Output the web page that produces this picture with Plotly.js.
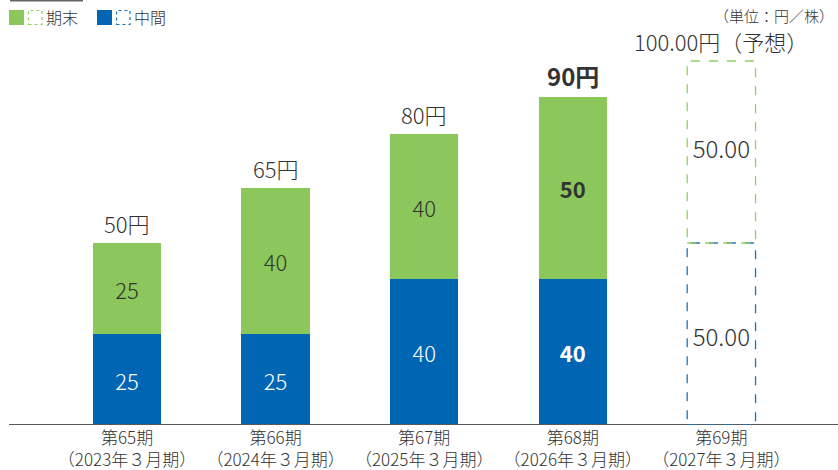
<!DOCTYPE html>
<html>
<head>
<meta charset="utf-8">
<script src="https://cdn.plot.ly/plotly-3.0.1.min.js"></script>
<style>html,body{margin:0;padding:0;background:#fff;}#chart{width:838px;height:470px;}</style>
</head>
<body>
<div id="chart"></div>
<script>
const categories = ["第65期<br>（2023年３月期）", "第66期<br>（2024年３月期）", "第67期<br>（2025年３月期）", "第68期<br>（2026年３月期）", "第69期<br>（2027年３月期）"];
const interim = [25, 25, 40, 40, null];
const yearEnd = [25, 40, 40, 50, null];
const forecastInterim = 50.00;
const forecastYearEnd = 50.00;
const forecastIndex = 4;
const highlightIndex = 3;

const W = 838, H = 470, MB = 45, PH = H - MB;
const GREEN = '#8bc75a', BLUE = '#0066b3', TXT = '#333333';
const FONT = '"Noto Sans CJK JP", "Noto Sans", sans-serif';
const LW = 300;
const xs = categories.map((c, i) => i);
const barW = 0.46;

function txt(vals) {
  return vals.map((v, i) => v == null ? '' : (i === highlightIndex ? '<b>' + v + '</b>' : String(v)));
}

const traces = [
  {type: 'bar', x: xs, y: interim, width: barW, marker: {color: BLUE},
   text: txt(interim), textposition: 'inside', insidetextanchor: 'middle',
   textfont: {color: '#ffffff', size: 22, family: FONT, weight: LW}, hoverinfo: 'skip', showlegend: false},
  {type: 'bar', x: xs, y: yearEnd, width: barW, marker: {color: GREEN},
   text: txt(yearEnd), textposition: 'inside', insidetextanchor: 'middle',
   textfont: {color: TXT, size: 22, family: FONT, weight: LW}, hoverinfo: 'skip', showlegend: false},
  {type: 'scatter', mode: 'text', x: [forecastIndex, forecastIndex],
   y: [forecastInterim / 2 - 1.6, forecastInterim + forecastYearEnd / 2],
   text: [forecastInterim.toFixed(2), forecastYearEnd.toFixed(2)],
   textfont: {color: TXT, size: 24, family: FONT, weight: LW}, hoverinfo: 'skip', showlegend: false}
];

const shapes = [];
const annotations = [];

// axis baseline
shapes.push({type: 'line', xref: 'paper', yref: 'y', x0: 9 / W, x1: 1, y0: 0, y1: 0,
  line: {color: '#5a5a5a', width: 2}});
// top-left stub line
shapes.push({type: 'line', xref: 'paper', yref: 'paper', x0: 10 / W, x1: 83 / W, y0: (PH - 0.5) / PH, y1: (PH - 0.5) / PH,
  line: {color: '#666666', width: 2}});

// forecast dashed boxes
shapes.push({type: 'rect', xref: 'x', yref: 'y', x0: forecastIndex - barW / 2, x1: forecastIndex + barW / 2,
  y0: 0, y1: forecastInterim, line: {color: '#1a73c0', width: 1.3, dash: 'dash'}, fillcolor: 'rgba(0,0,0,0)'});
shapes.push({type: 'rect', xref: 'x', yref: 'y', x0: forecastIndex - barW / 2, x1: forecastIndex + barW / 2,
  y0: forecastInterim, y1: forecastInterim + forecastYearEnd, line: {color: '#8fd05f', width: 1.3, dash: 'dash'}, fillcolor: 'rgba(0,0,0,0)'});

// totals
xs.forEach(i => {
  if (i === forecastIndex) {
    annotations.push({x: i, y: forecastInterim + forecastYearEnd, xref: 'x', yref: 'y', yanchor: 'bottom', yshift: 2,
      text: (forecastInterim + forecastYearEnd).toFixed(2) + '円（予想）', showarrow: false,
      font: {size: 22, color: TXT, family: FONT, weight: LW}});
  } else {
    const t = interim[i] + yearEnd[i];
    annotations.push({x: i, y: t, xref: 'x', yref: 'y', yanchor: 'bottom', yshift: 2,
      text: i === highlightIndex ? '<b>' + t + '円</b>' : t + '円', showarrow: false,
      font: {size: i === highlightIndex ? 24 : 22, color: TXT, family: FONT, weight: LW}});
  }
});

// legend
function py(p) { return (PH - p) / PH; }
function px(p) { return p / W; }
const legendItems = [
  {label: '期末', color: GREEN, dash: '#8fd05f', x: 9},
  {label: '中間', color: BLUE, dash: '#1a73c0', x: 97}
];
legendItems.forEach(it => {
  shapes.push({type: 'rect', xref: 'paper', yref: 'paper', x0: px(it.x), x1: px(it.x + 15), y0: py(25), y1: py(10),
    fillcolor: it.color, line: {width: 0}});
  shapes.push({type: 'rect', xref: 'paper', yref: 'paper', x0: px(it.x + 19.5), x1: px(it.x + 33), y0: py(24.5), y1: py(10.5),
    fillcolor: 'rgba(0,0,0,0)', line: {color: it.dash, width: 1.2, dash: 'dot'}});
  annotations.push({xref: 'paper', yref: 'paper', x: px(it.x + 35), y: py(17.5), xanchor: 'left', yanchor: 'middle',
    text: it.label, showarrow: false, font: {size: 16, color: TXT, family: FONT, weight: LW}});
});

annotations.push({xref: 'paper', yref: 'paper', x: px(836), y: py(16), xanchor: 'right', yanchor: 'middle',
  text: '（単位：円／株）', showarrow: false, font: {size: 15, color: TXT, family: FONT, weight: LW}});

const layout = {
  width: W, height: H,
  margin: {l: 0, r: 0, t: 0, b: MB, pad: 0},
  barmode: 'stack',
  paper_bgcolor: '#ffffff', plot_bgcolor: '#ffffff',
  xaxis: {range: [-0.855, 4.785], tickmode: 'array', tickvals: xs, ticktext: categories,
    showgrid: false, zeroline: false, showline: false, ticks: '', fixedrange: true, automargin: false,
    ticklabelstandoff: 1,
    tickfont: {size: 17, color: TXT, family: FONT, weight: LW}},
  yaxis: {range: [0, 116.76], visible: false, fixedrange: true},
  shapes: shapes,
  annotations: annotations,
  showlegend: false,
  font: {family: FONT, color: TXT}
};

Plotly.newPlot('chart', traces, layout, {displayModeBar: false, staticPlot: true});
</script>
</body>
</html>
